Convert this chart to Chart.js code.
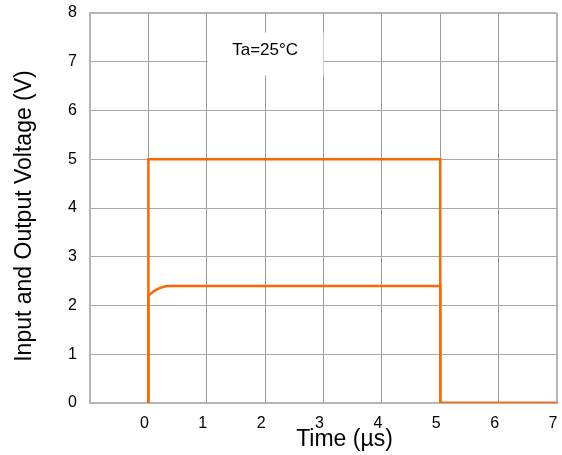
<!DOCTYPE html>
<html>
<head>
<meta charset="utf-8">
<script src="https://cdn.jsdelivr.net/npm/chart.js@4/dist/chart.umd.min.js"></script>
<style>
  html, body { margin: 0; padding: 0; background: #ffffff; }
  #wrap { width: 562px; height: 455px; position: relative; }
  canvas { display: block; }
</style>
</head>
<body>
<div id="wrap"><canvas id="c" width="562" height="455"></canvas></div>
<script>
// ---- data ----
const inputTime = [0, 0, 5, 5, 7];
const inputVolt = [0, 5, 5, 0, 0];
const outputTime = [0, 0, 0.1, 0.2, 0.33, 5, 5, 7];
const outputVolt = [0, 2.22, 2.3, 2.36, 2.4, 2.4, 0, 0];
const xTickValues = [-1, 0, 1, 2, 3, 4, 5, 6, 7];
const xTickLabels = ['', '0', '1', '2', '3', '4', '5', '6', '7'];
const yTickLabels = ['0', '1', '2', '3', '4', '5', '6', '7', '8'];
const xTitle = 'Time (µs)';
const yTitle = 'Input and Output Voltage (V)';
const noteText = 'Ta=25°C';
const noteBox = { x0: 1, x1: 3, y0: 6.72, y1: 7.6, tx: 2, ty: 7.24 };

const FONT = "'Liberation Sans', Arial, sans-serif";
const ORANGE = '#ff6600';

function toPoints(xs, ys) { return xs.map((x, i) => ({ x: x, y: ys[i] })); }

const decorPlugin = {
  id: 'decor',
  beforeDatasetsDraw(chart) {
    const { ctx, scales: { x, y } } = chart;
    const l = x.getPixelForValue(noteBox.x0), r = x.getPixelForValue(noteBox.x1);
    const t = y.getPixelForValue(noteBox.y1), b = y.getPixelForValue(noteBox.y0);
    ctx.save();
    ctx.fillStyle = '#ffffff';
    ctx.fillRect(l + 1, t, r - l - 1, b - t);
    ctx.fillStyle = '#000000';
    ctx.font = '17px ' + FONT;
    ctx.textAlign = 'center';
    ctx.textBaseline = 'middle';
    ctx.fillText(noteText, x.getPixelForValue(noteBox.tx), y.getPixelForValue(noteBox.ty));
    ctx.restore();
  },
  afterDraw(chart) {
    const { ctx, chartArea } = chart;
    ctx.save();
    ctx.fillStyle = '#000000';
    ctx.font = '23px ' + FONT;
    ctx.textAlign = 'center';
    ctx.textBaseline = 'middle';
    ctx.fillText(xTitle, (chartArea.left + chartArea.right) / 2 + 21, chartArea.bottom + 37);
    ctx.translate(25, (chartArea.top + chartArea.bottom) / 2 + 8);
    ctx.rotate(-Math.PI / 2);
    ctx.fillText(yTitle, 0, 0);
    ctx.restore();
  }
};

new Chart(document.getElementById('c'), {
  type: 'line',
  data: {
    datasets: [
      { label: 'Input', data: toPoints(inputTime, inputVolt), borderColor: ORANGE, borderWidth: 2.5, pointRadius: 0, tension: 0, fill: false },
      { label: 'Output', data: toPoints(outputTime, outputVolt), borderColor: ORANGE, borderWidth: 2.5, pointRadius: 0, tension: 0, cubicInterpolationMode: 'monotone', fill: false }
    ]
  },
  options: {
    responsive: false,
    animation: false,
    devicePixelRatio: 1,
    layout: { autoPadding: false, padding: { top: 13, right: 5, left: 0, bottom: 0 } },
    plugins: { legend: { display: false }, tooltip: { enabled: false }, title: { display: false } },
    scales: {
      x: {
        type: 'linear', min: -1, max: 7,
        afterFit(s) { s.height = 52; s.paddingLeft = 0; s.paddingRight = 0; },
        afterBuildTicks(s) { s.ticks = xTickValues.map(v => ({ value: v })); },
        ticks: {
          callback(v) { const i = xTickValues.indexOf(v); return i >= 0 ? xTickLabels[i] : ''; },
          color: '#000', font: { family: FONT, size: 16 }, padding: 11, maxRotation: 0, labelOffset: -4
        },
        grid: {
          drawTicks: false,
          color: ctx => (ctx.tick && ctx.tick.value === 7) ? '#b5b5b5' : '#9a9a9a',
          lineWidth: ctx => (ctx.tick && ctx.tick.value === 7) ? 2 : 1
        },
        border: { color: '#b5b5b5', width: 2 }
      },
      y: {
        type: 'linear', min: 0, max: 8,
        afterFit(s) { s.width = 90; s.paddingTop = 0; s.paddingBottom = 0; },
        ticks: {
          stepSize: 1,
          callback(v) { return yTickLabels[v] !== undefined ? yTickLabels[v] : ''; },
          color: '#000', font: { family: FONT, size: 16 }, padding: 13
        },
        grid: {
          drawTicks: false,
          color: ctx => (ctx.tick && ctx.tick.value === 8) ? '#b5b5b5' : '#a8a8a8',
          lineWidth: ctx => (ctx.tick && ctx.tick.value === 8) ? 2 : 1
        },
        border: { color: '#b5b5b5', width: 2 }
      }
    }
  },
  plugins: [decorPlugin]
});
</script>
</body>
</html>
